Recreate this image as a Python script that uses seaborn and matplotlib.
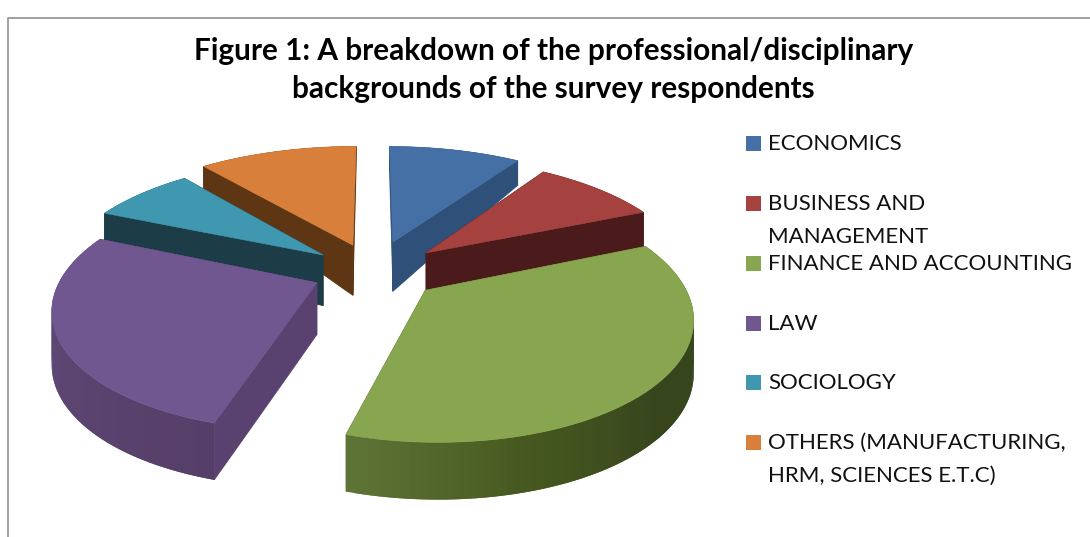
import numpy as np
import seaborn as sns
import matplotlib.pyplot as plt

sns.set_theme(style="white")
plt.rcParams["font.family"] = ["Lato", "DejaVu Sans"]

# Valorile
categories = ["ECONOMICS", "BUSINESS AND\nMANAGEMENT", "FINANCE AND ACCOUNTING",
              "LAW", "SOCIOLOGY", "OTHERS (MANUFACTURING,\nHRM, SCIENCES E.T.C)"]
shares = [9.5, 9.2, 35.9, 26.8, 7.5, 11.1]

top_colors = ["#4470a5", "#a5423f", "#88a54f", "#71578f", "#3f98b0", "#d8803b"]
cut_colors = ["#2f5079", "#4b1a1a", "#5e7336", "#5a4270", "#1c3c48", "#5f3614"]
rim_colors = [["#2f5079", "#2f5079"], ["#4b1a1a", "#4b1a1a"],
              ["#5e7336", "#46581f", "#37451d", "#37451d", "#3c4b20"],
              ["#5e4674", "#5e4674", "#553e67"],
              ["#1c3c48", "#1c3c48"], ["#5f3614", "#5f3614"]]
draw_order = [5, 0, 4, 1, 3, 2]

# geometria vederii in perspectiva
cx, cy = 372, 262
rx, ry = 268, 120
k = 0.2
explode_dist = 0.2
nudge_u = [0.022, 0.05, 0.041, -0.018, -0.024, -0.005]
nudge_v = [-0.019, -0.05, -0.092, -0.082, -0.06, -0.044]
radius_scale = [1.02, 0.975, 0.93, 0.93, 0.98, 1.05]
depth_v = [-1.3, -0.2, 0.15, 0.47, 1.0, 1.2]
depth_px = [58, 52, 50, 38, 25, 20]


def project(u, v):
    w = 1 + k * v
    return cx + rx * u / w, cy - ry * v / w


def depth(v):
    return np.interp(v, depth_v, depth_px)


fig = plt.figure(figsize=(10.9, 5.37), dpi=100)
ax = fig.add_axes([0, 0, 1, 1])

wedges, _ = ax.pie(shares, startangle=90, counterclock=False,
                   explode=[explode_dist] * len(shares), radius=1)
slices = [(w.center, w.r, w.theta1, w.theta2) for w in wedges]
for w in wedges:
    w.remove()

ax.set_aspect("auto")
ax.set_xlim(0, 1090)
ax.set_ylim(537, 0)
ax.axis("off")


def wall(u, v, color, lw=0.6):
    x, y = project(np.asarray(u), np.asarray(v))
    d = depth(np.asarray(v))
    ax.fill(np.r_[x, x[::-1]], np.r_[y, (y + d)[::-1]],
            color=color, lw=lw)


for i in draw_order:
    (c0, c1), r, t1, t2 = slices[i]
    c0 += nudge_u[i]
    c1 += nudge_v[i]
    r *= radius_scale[i]
    t = np.radians(np.linspace(t1, t2, 90))
    u = c0 + r * np.cos(t)
    v = c1 + r * np.sin(t)

    # peretii taieturii
    for j in (0, -1):
        wall(np.linspace(c0, u[j], 30), np.linspace(c1, v[j], 30), cut_colors[i])

    # marginea rotunda, cu gradient (fasiile se suprapun ca sa nu apara dungi)
    pal = sns.blend_palette(rim_colors[i], len(t) - 1)
    for j in range(len(t) - 1):
        wall(u[j:j + 3], v[j:j + 3], pal[j], lw=0)

    x, y = project(np.r_[c0, u], np.r_[c1, v])
    ax.fill(x, y, color=top_colors[i], lw=0.4)

# chenarul
ax.plot([8, 8, 1090], [537, 18, 18], color="#9a9a9a", lw=1.3)

ax.text(553.5, 70, "Figure 1: A breakdown of the professional/disciplinary\n"
        "backgrounds of the survey respondents",
        ha="center", va="center", fontsize=21.4, fontweight="bold",
        color="black", linespacing=1.42)

# legenda
legend_y = [143, 203, 263, 323, 382, 442]
for label, color, y in zip(categories, top_colors, legend_y):
    ax.fill([746, 761, 761, 746], [y - 7.5, y - 7.5, y + 7.5, y + 7.5], color=color, lw=0)
    ax.text(768, y - 9, label, ha="left", va="top", fontsize=16,
            color="#111111", linespacing=1.8)

plt.savefig("out.png", dpi=100)
